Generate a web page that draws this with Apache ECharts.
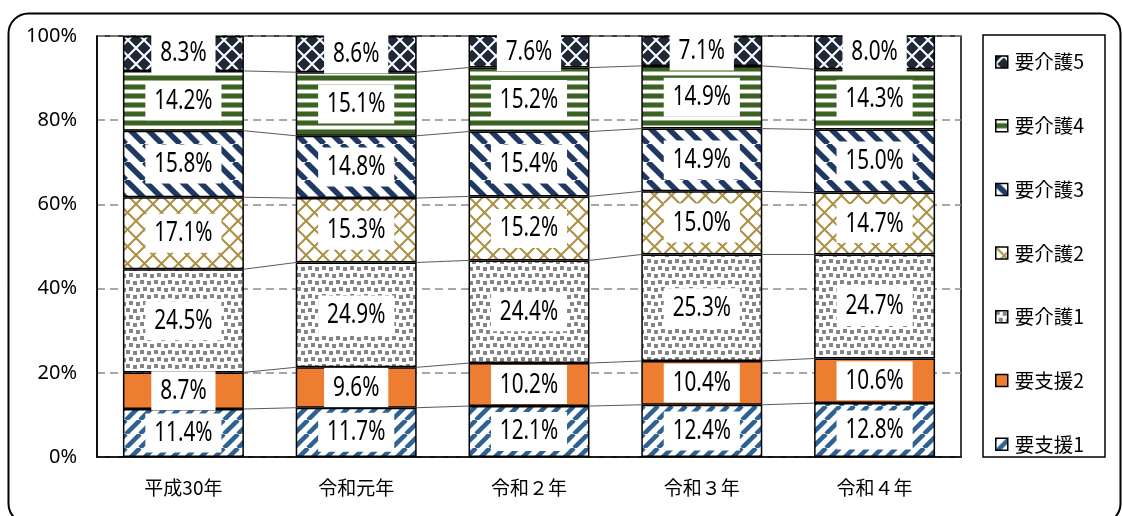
<!DOCTYPE html>
<html>
<head>
<meta charset="utf-8">
<script src="https://cdn.jsdelivr.net/npm/echarts@6/dist/echarts.min.js"></script>
<style>
  html, body { margin: 0; padding: 0; background: #fff; }
  #chart { width: 1123px; height: 516px; }
</style>
</head>
<body>
<div id="chart"></div>
<script>
// 要介護度別 認定者の構成比（%）
const years = ['平成30年', '令和元年', '令和２年', '令和３年', '令和４年'];
const shien1 = [11.4, 11.7, 12.1, 12.4, 12.8];
const shien2 = [8.7, 9.6, 10.2, 10.4, 10.6];
const kaigo1 = [24.5, 24.9, 24.4, 25.3, 24.7];
const kaigo2 = [17.1, 15.3, 15.2, 15.0, 14.7];
const kaigo3 = [15.8, 14.8, 15.4, 14.9, 15.0];
const kaigo4 = [14.2, 15.1, 15.2, 14.9, 14.3];
const kaigo5 = [8.3, 8.6, 7.6, 7.1, 8.0];
const seriesNames = ['要支援1', '要支援2', '要介護1', '要介護2', '要介護3', '要介護4', '要介護5'];
const seriesValues = [shien1, shien2, kaigo1, kaigo2, kaigo3, kaigo4, kaigo5];

const NUM_FONT = "'Noto Sans', sans-serif";
const JP_FONT = "'Noto Sans CJK JP', sans-serif";

// ---- fill patterns ----
function tile(w, h, draw) {
  const c = document.createElement('canvas');
  c.width = w; c.height = h;
  const ctx = c.getContext('2d');
  ctx.fillStyle = '#fff';
  ctx.fillRect(0, 0, w, h);
  draw(ctx, w, h);
  return { image: c, repeat: 'repeat' };
}

// 斜線（左下→右上）
const patShien1 = tile(14, 14, (ctx, w, h) => {
  ctx.strokeStyle = '#2e6293';
  ctx.lineWidth = 4.5;
  for (const x0 of [-w, 0, w]) {
    ctx.beginPath(); ctx.moveTo(x0, h); ctx.lineTo(x0 + w, 0); ctx.stroke();
  }
});
const colShien2 = '#ed7d31';
// 点描
const patKaigo1 = tile(14, 14, (ctx) => {
  ctx.fillStyle = '#858585';
  const pts = [[0, 0], [7, 1], [3, 7], [10, 8]];
  for (const [x, y] of pts) ctx.fillRect(x, y, 4, 4);
});
// ひし形格子
const patKaigo2 = tile(17, 17, (ctx, w, h) => {
  ctx.strokeStyle = '#ac9044';
  ctx.lineWidth = 2;
  ctx.beginPath(); ctx.moveTo(0, 0); ctx.lineTo(w, h); ctx.stroke();
  ctx.beginPath(); ctx.moveTo(w, 0); ctx.lineTo(0, h); ctx.stroke();
});
// 斜線（左上→右下）
const patKaigo3 = tile(18, 18, (ctx, w, h) => {
  ctx.strokeStyle = '#1f3864';
  ctx.lineWidth = 5.5;
  for (const x0 of [-w, 0, w]) {
    ctx.beginPath(); ctx.moveTo(x0, 0); ctx.lineTo(x0 + w, h); ctx.stroke();
  }
});
// 横縞
const patKaigo4 = tile(4, 9, (ctx, w) => {
  ctx.fillStyle = '#98ad86'; ctx.fillRect(0, 3, w, 1); ctx.fillRect(0, 8, w, 1);
  ctx.fillStyle = '#3b6223'; ctx.fillRect(0, 4, w, 4);
});
// ひし形（塗りつぶし）
const patKaigo5 = tile(16, 16, (ctx) => {
  ctx.fillStyle = '#1e2839';
  const r = 6.5;
  for (const [cx, cy] of [[0, 0], [16, 0], [0, 16], [16, 16], [8, 8]]) {
    ctx.beginPath();
    ctx.moveTo(cx, cy - r); ctx.lineTo(cx + r, cy); ctx.lineTo(cx, cy + r); ctx.lineTo(cx - r, cy);
    ctx.closePath(); ctx.fill();
  }
});
const fills = [patShien1, colShien2, patKaigo1, patKaigo2, patKaigo3, patKaigo4, patKaigo5];

// ---- series lines between neighbouring bars ----
const connectorData = [];
for (let i = 0; i < years.length - 1; i++) {
  let a = 0, b = 0;
  for (let k = 0; k < seriesValues.length - 1; k++) {
    a += seriesValues[k][i];
    b += seriesValues[k][i + 1];
    connectorData.push([i, a, b]);
  }
}

// ---- value labels: [category index, stack base, value] ----
const labelData = [];
for (let i = 0; i < years.length; i++) {
  let base = 0;
  for (let k = 0; k < seriesValues.length; k++) {
    labelData.push([i, base, seriesValues[k][i]]);
    base += seriesValues[k][i];
  }
}

const barSeries = seriesNames.map((name, k) => ({
  name,
  type: 'bar',
  stack: 'total',
  barWidth: '70%',
  data: seriesValues[k],
  itemStyle: { color: fills[k], borderColor: '#000', borderWidth: 1.5 },
  emphasis: { disabled: true }
}));

const chart = echarts.init(document.getElementById('chart'));
chart.setOption({
  animation: false,
  backgroundColor: '#fff',
  grid: {
    left: 97, right: 162, top: 36, bottom: 59,
    show: true, borderColor: '#000', borderWidth: 1.5, backgroundColor: 'transparent'
  },
  legend: {
    orient: 'vertical',
    left: 990, top: 47,
    itemWidth: 12, itemHeight: 12, itemGap: 43.7,
    icon: 'rect',
    data: seriesNames.slice().reverse(),
    itemStyle: { borderColor: '#000', borderWidth: 1.5 },
    textStyle: { fontFamily: JP_FONT, fontSize: 19.5, lineHeight: 20, color: '#000', padding: [0, 0, 0, 2] },
    selectedMode: false
  },
  xAxis: {
    type: 'category',
    data: years,
    axisLine: { lineStyle: { color: '#000', width: 1.5 } },
    axisTick: { show: false },
    axisLabel: { color: '#000', fontFamily: JP_FONT, fontSize: 19, margin: 21 }
  },
  yAxis: {
    type: 'value',
    min: 0, max: 100, interval: 20,
    axisLine: { show: true, lineStyle: { color: '#000', width: 1.5 } },
    axisTick: { show: false },
    axisLabel: { color: '#000', fontFamily: NUM_FONT, fontSize: 20, margin: 20, formatter: '{value}%' },
    splitLine: { lineStyle: { color: '#8a8a8a', width: 1.5, type: [8, 5] } }
  },
  graphic: [
    {
      type: 'rect', z: -10, silent: true,
      shape: { x: 8.5, y: 13.5, width: 1112, height: 510, r: 20 },
      style: { fill: 'none', stroke: '#000', lineWidth: 2 }
    },
    {
      type: 'rect', silent: true,
      shape: { x: 983, y: 35, width: 122, height: 422 },
      style: { fill: 'none', stroke: '#000', lineWidth: 1.5 }
    }
  ],
  series: [
    {
      type: 'custom',
      silent: true,
      z: 1,
      data: connectorData,
      encode: { x: 0, y: 1 },
      renderItem: (params, api) => {
        const i = api.value(0);
        const half = api.size([1, 0])[0] * 0.35;
        const p1 = api.coord([i, api.value(1)]);
        const p2 = api.coord([i + 1, api.value(2)]);
        return {
          type: 'line',
          shape: { x1: p1[0] + half, y1: p1[1], x2: p2[0] - half, y2: p2[1] },
          style: { stroke: '#5a5a5a', lineWidth: 1 }
        };
      }
    },
    ...barSeries,
    {
      type: 'custom',
      silent: true,
      z: 5,
      data: labelData,
      encode: { x: 0, y: 1 },
      renderItem: (params, api) => {
        const v = api.value(2);
        const p = api.coord([api.value(0), api.value(1) + v / 2]);
        return {
          type: 'text',
          x: p[0], y: p[1],
          scaleX: 0.74,
          style: {
            text: v.toFixed(1) + '%',
            fill: '#000',
            fontFamily: NUM_FONT,
            fontSize: 28,
            lineHeight: 29,
            align: 'center',
            verticalAlign: 'middle',
            backgroundColor: '#fff',
            padding: [5, 12]
          }
        };
      }
    }
  ]
});
</script>
</body>
</html>
